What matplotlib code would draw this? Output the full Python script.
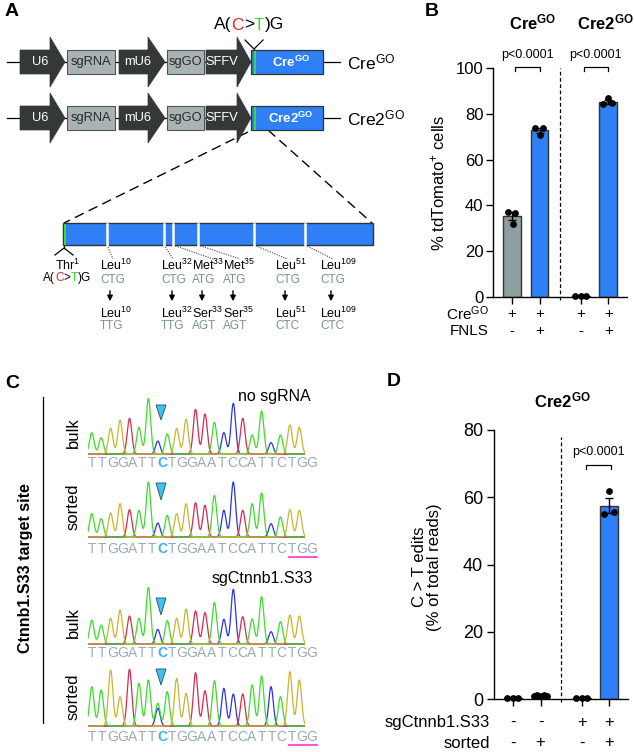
import numpy as np
import matplotlib
matplotlib.use('Agg')
import matplotlib.pyplot as plt
from matplotlib.patches import Polygon, Rectangle

plt.rcParams['font.family'] = ['Liberation Sans', 'DejaVu Sans']
plt.rcParams['mathtext.fontset'] = 'custom'
plt.rcParams['mathtext.rm'] = 'Liberation Sans'
plt.rcParams['mathtext.it'] = 'Liberation Sans:italic'
plt.rcParams['mathtext.bf'] = 'Liberation Sans:bold'

# ---------------- data ----------------
# panel B: % tdTomato+ cells
b_positions = [0, 1, 2.5, 3.5]
b_dots = [[37.1, 36.7, 31.9], [74.0, 73.8, 70.8], [0.3, 0.5, 0.4], [86.9, 84.3, 84.7]]
b_jitter = [[-0.15, 0.12, 0.03], [-0.16, 0.13, 0.02], [-0.2, 0.0, 0.2], [0.0, -0.18, 0.15]]
b_colors = ['#8e9fa0', '#2f7ff6', '#2f7ff6', '#2f7ff6']
b_cre = ['+', '+', '+', '+']
b_fnls = ['-', '+', '-', '+']

# panel D: C>T edits (% of total reads)
d_positions = [0, 1, 2.5, 3.5]
d_dots = [[0.2, 0.2, 0.2], [1.0, 1.2, 0.9, 1.1, 0.8], [0.2, 0.2, 0.2], [62.0, 55.0, 55.5]]
d_jitter = [[-0.2, 0.0, 0.2], [-0.24, -0.12, 0.0, 0.12, 0.24], [-0.2, 0.0, 0.2], [0.0, -0.18, 0.18]]
d_colors = ['#8e9fa0', '#8e9fa0', '#8e9fa0', '#2f7ff6']
d_sg = ['-', '-', '+', '+']
d_sorted = ['-', '+', '-', '+']

# panel C: chromatogram peak heights per base
seq = "TTGGATTCTGGAATCCATTCTGG"
trace_1 = [64, 49, 77, 102, 107, 80, 167, 39, 60, 77, 104, 134, 120, 95, 64, 152, 107, 57, 129, 34, 57, 87, 80]
trace_2 = [70, 55, 72, 100, 82, 80, 165, 42, 65, 70, 100, 103, 95, 125, 80, 165, 80, 100, 132, 40, 60, 82, 80]
trace_3 = [72, 57, 77, 102, 84, 77, 170, 44, 70, 77, 105, 99, 94, 125, 74, 164, 82, 75, 142, 37, 67, 87, 84]
trace_4 = [118, 108, 168, 88, 170, 128, 138, 53, 103, 143, 98, 160, 106, 136, 113, 96, 96, 123, 150, 118, 88, 163, 138]
# secondary peaks (base index, base, height)
extra_4 = [(7, 'T', 68)]

# panel A: mutated codons
codon_top = ['Leu$^{10}$', 'Leu$^{32}$', 'Met$^{33}$', 'Met$^{35}$', 'Leu$^{51}$', 'Leu$^{109}$']
codon_top_seq = ['CTG', 'CTG', 'ATG', 'ATG', 'CTG', 'CTG']
codon_bot = ['Leu$^{10}$', 'Leu$^{32}$', 'Ser$^{33}$', 'Ser$^{35}$', 'Leu$^{51}$', 'Leu$^{109}$']
codon_bot_seq = ['TTG', 'TTG', 'AGT', 'AGT', 'CTC', 'CTC']

BLUE = '#2f7ff6'
GREEN = '#3ddc2a'
DARK = '#353839'
GREY_BOX = '#a9b3b3'
CODON_GREY = '#7a9194'
base_colors = {'T': '#3ddc2a', 'G': '#c9b52e', 'A': '#d62a50', 'C': '#2a35e6'}
CRE = r'Cre$^{\mathrm{GO}}$'
CRE2 = r'Cre2$^{\mathrm{GO}}$'

fig = plt.figure(figsize=(6.34, 7.52), dpi=100)
cv = fig.add_axes([0, 0, 1, 1])
cv.set_xlim(0, 634)
cv.set_ylim(752, 0)
cv.axis('off')
renderer = fig.canvas.get_renderer()


def seg_text(x, y, parts, size):
    # draw coloured pieces of one string centred at x
    items = []
    for s, c in parts:
        t = cv.text(0, y, s, color=c, fontsize=size, va='center', ha='left')
        items.append((t, t.get_window_extent(renderer).width))
    total = sum(w for _, w in items)
    pos = x - total / 2
    for t, w in items:
        t.set_x(pos)
        pos += w


# ---------------- panel A ----------------
cv.text(5, 12, 'A', fontsize=14, fontweight='bold', va='center')

row_y = [62, 118]
row_names = [CRE, CRE2]
box_names = [r'$\mathbf{Cre^{GO}}$', r'$\mathbf{Cre2^{GO}}$']
arrows = [(20, 50, 65, 'U6', 40), (119, 148, 165, 'mU6', 138), (206, 237, 251, 'SFFV', 222)]
grey_boxes = [(67, 115, 'sgRNA'), (167, 204, 'sgGO')]

for yc, name, bname in zip(row_y, row_names, box_names):
    cv.plot([7, 340], [yc, yc], color='k', lw=0.9, zorder=1)
    for x0, x1, tip, lab, lx in arrows:
        pts = [(x0, yc - 12), (x1, yc - 12), (x1, yc - 25), (tip, yc),
               (x1, yc + 25), (x1, yc + 12), (x0, yc + 12)]
        cv.add_patch(Polygon(pts, closed=True, fc=DARK, ec=DARK, lw=0.5, zorder=3))
        cv.text(lx, yc, lab, color='white', fontsize=9.3, ha='center', va='center', zorder=4)
    for x0, x1, lab in grey_boxes:
        cv.add_patch(Rectangle((x0, yc - 12), x1 - x0, 24, fc=GREY_BOX, ec='#505555', lw=0.8, zorder=3))
        cv.text((x0 + x1) / 2, yc, lab, color='#2a2a2a', fontsize=9.3, ha='center', va='center', zorder=4)
    cv.add_patch(Rectangle((251, yc - 12), 72, 24, fc=BLUE, ec='#333333', lw=0.9, zorder=3))
    cv.add_patch(Rectangle((253.5, yc - 11.5), 2.5, 23, fc=GREEN, ec='none', zorder=4))
    cv.text(291, yc, bname, color='white', fontsize=9.5, ha='center', va='center', zorder=4)
    cv.text(347, yc, name, fontsize=12.5, ha='left', va='center')

seg_text(249, 25, [('A(', 'k'), ('C', '#ee2222'), ('>', 'k'), ('T', GREEN), (')G', 'k')], 12.5)
cv.plot([245, 254, 263], [40, 49, 40], color='k', lw=0.9)
cv.plot([254, 254], [49, 51], color='k', lw=0.9)

# zoom dashes
cv.plot([248, 64], [132, 223], color='k', lw=1.0, dashes=(7, 4))
cv.plot([268, 372], [130, 223], color='k', lw=1.0, dashes=(7, 4))

# gene map
cv.add_patch(Rectangle((63, 223), 310, 22, fc=BLUE, ec='#333333', lw=1.0, zorder=3))
cv.add_patch(Rectangle((63.5, 223.5), 2.5, 21, fc=GREEN, ec='none', zorder=4))
sep_x = [107, 164, 173, 198, 254, 305]
label_x = [100, 161, 192, 223, 275, 320]
dot_end = [113, 173, 213, 240, 287, 333]
arrow_x = [110, 172, 202, 233, 285, 331]
for sx, de in zip(sep_x, dot_end):
    cv.plot([sx, sx], [223.5, 244.5], color='white', lw=1.8, zorder=4)
    cv.plot([sx, de], [245, 259], color='#444444', lw=0.8, ls=(0, (1, 1.2)))
for lx, ax_, t1, s1, t2, s2 in zip(label_x, arrow_x, codon_top, codon_top_seq, codon_bot, codon_bot_seq):
    cv.text(lx, 265, t1, fontsize=9, ha='left', va='center')
    cv.text(lx, 280, s1, fontsize=8.5, ha='left', va='center', color=CODON_GREY)
    cv.annotate('', xy=(ax_, 304), xytext=(ax_, 288),
                arrowprops=dict(arrowstyle='-|>', lw=1.0, color='k', mutation_scale=8))
    cv.text(lx, 313, t2, fontsize=9, ha='left', va='center')
    cv.text(lx, 326, s2, fontsize=8.5, ha='left', va='center', color=CODON_GREY)

cv.plot([64, 64], [245, 248], color='k', lw=0.9)
cv.plot([55, 64, 73], [255, 248, 255], color='k', lw=0.9)
cv.text(68, 265, 'Thr$^{1}$', fontsize=9, ha='center', va='center')
seg_text(67, 278, [('A(', 'k'), ('C', '#ee2222'), ('>', 'k'), ('T', GREEN), (')G', 'k')], 8.5)


# ---------------- bar panels ----------------
def bar_panel(rect, positions, dots, jitter, colors, ymax, yticks, tick_size):
    ax = fig.add_axes(rect)
    for pos, d, jit, col in zip(positions, dots, jitter, colors):
        d = np.array(d)
        mean = d.mean()
        sem = d.std(ddof=1) / np.sqrt(len(d))
        ax.bar(pos, mean, width=0.65, color=col, edgecolor='#333333', lw=1.0, zorder=2)
        ax.errorbar(pos, mean, yerr=sem, color='k', lw=1.0, capsize=3, capthick=1.0, zorder=3)
        ax.scatter(pos + np.array(jit), d, s=15, color='k', zorder=4, clip_on=False)
    ax.set_xlim(-0.69, 4.18)
    ax.set_ylim(0, ymax)
    ax.set_yticks(yticks)
    ax.set_xticks(positions)
    ax.set_xticklabels([])
    ax.spines['top'].set_visible(False)
    ax.spines['right'].set_visible(False)
    for s in ['left', 'bottom']:
        ax.spines[s].set_linewidth(1.0)
    ax.tick_params(axis='both', length=5, width=1.0, labelsize=tick_size, pad=2)
    ax.patch.set_alpha(0)
    return ax


def row_cells(ax, positions, marks, label, dy, size=12):
    ax.annotate(label, xy=(0, 0), xycoords='axes fraction', xytext=(-4, -dy),
                textcoords='offset pixels', ha='right', va='center', fontsize=size)
    for pos, m in zip(positions, marks):
        ax.annotate(m, xy=(pos, 0), xytext=(0, -dy), textcoords='offset pixels',
                    ha='center', va='center', fontsize=size)


def bracket(ax, x0, x1, y, drop, text, ty):
    ax.plot([x0, x0, x1, x1], [y - drop, y, y, y - drop], color='k', lw=0.9, clip_on=False)
    ax.text((x0 + x1) / 2, ty, text, fontsize=9, ha='center', va='center', clip_on=False)


# panel B
axb = bar_panel([493 / 634, (752 - 297) / 752, 134 / 634, 229 / 752],
                b_positions, b_dots, b_jitter, b_colors, 100, [0, 20, 40, 60, 80, 100], 12)
axb.set_ylabel('% tdTomato$^{+}$ cells', fontsize=12)
axb.yaxis.set_label_coords(-0.343, 0.5)
axb.plot([1.75, 1.75], [-1.3, 100], color='k', lw=0.9, ls=(0, (3, 2)), clip_on=False)
bracket(axb, 0.1, 1.0, 100.3, 1.5, 'p<0.0001', 105.7)
bracket(axb, 2.6, 3.5, 100.3, 1.5, 'p<0.0001', 105.7)
row_cells(axb, b_positions, b_cre, CRE, 17, 11)
row_cells(axb, b_positions, b_fnls, 'FNLS', 34, 11)
cv.text(425, 12, 'B', fontsize=14, fontweight='bold', va='center')
cv.text(533, 22, r'$\mathbf{Cre^{GO}}$', fontsize=12, ha='center', va='center')
cv.text(605, 22, r'$\mathbf{Cre2^{GO}}$', fontsize=12, ha='center', va='center')

# panel D
axd = bar_panel([494 / 634, (752 - 699) / 752, 134 / 634, 269 / 752],
                d_positions, d_dots, d_jitter, d_colors, 80, [0, 20, 40, 60, 80], 13)
axd.tick_params(axis='y', pad=3)
axd.plot([1.75, 1.75], [-1.0, 78], color='k', lw=0.9, ls=(0, (3, 2)), clip_on=False)
bracket(axd, 2.65, 3.55, 69.5, 1.2, 'p<0.0001', 73.5)
row_cells(axd, d_positions, d_sg, 'sgCtnnb1.S33', 23)
row_cells(axd, d_positions, d_sorted, 'sorted', 44)
cv.text(427, 567, 'C > T edits\n(% of total reads)', fontsize=12, rotation=90,
        ha='center', va='center', linespacing=1.05, multialignment='center')
cv.text(387, 382, 'D', fontsize=14, fontweight='bold', va='center')
cv.text(562, 400, r'$\mathbf{Cre2^{GO}}$', fontsize=12, ha='center', va='center')

# ---------------- panel C ----------------
cv.text(5, 383, 'C', fontsize=14, fontweight='bold', va='center')
cv.plot([43, 43], [397, 723], color='k', lw=0.9)
cv.text(26, 568, 'Ctnnb1.S33 target site', fontsize=11.5, fontweight='bold',
        rotation=90, ha='center', va='center')

traces = [trace_1, trace_2, trace_3, trace_4]
extras = [[], [], [], extra_4]
baselines = [454, 537, 644, 726]
seq_y = [463, 549, 653, 737]
tri = [(405, 420), (483, 500), (598, 615), (669, 685)]
side = ['bulk', 'sorted', 'bulk', 'sorted']
side_y = [433, 507, 623, 697]
underline = [False, True, False, True]

xs = np.linspace(-0.4, 22.6, 900)
sig = 0.24
for heights, extra, base, sy, (t0, t1), sl, sly, ul in zip(
        traces, extras, baselines, seq_y, tri, side, side_y, underline):
    axc = fig.add_axes([88 / 634, (752 - (base + 1)) / 752, 217 / 634, 60 / 752])
    axc.set_xlim(-0.4, 22.6)
    axc.set_ylim(-3, 177)
    axc.axis('off')
    axc.patch.set_alpha(0)
    for b in ['C', 'A', 'T', 'G']:
        y = np.zeros_like(xs)
        for i, (bb, h) in enumerate(zip(seq, heights)):
            if bb == b:
                y += h * np.exp(-(xs - i) ** 2 / (2 * sig ** 2))
        for i, bb, h in extra:
            if bb == b:
                y += h * np.exp(-(xs - i) ** 2 / (2 * sig ** 2))
        axc.plot(xs, y, color=base_colors[b], lw=0.9)
    for i, ch in enumerate(seq):
        if i == 7:
            cv.text(92.5 + 9.95 * i, sy, ch, fontsize=10, ha='center', va='center',
                    color='#33b8ee', fontweight='bold')
        else:
            cv.text(92.5 + 9.95 * i, sy, ch, fontsize=10, ha='center', va='center', color='#9aabb0')
    cv.add_patch(Polygon([(156, t0), (166, t0), (161, t1)], closed=True,
                         fc='#3cc3ee', ec='#1f4f66', lw=0.6))
    cv.text(73, sly, sl, fontsize=12, rotation=90, ha='center', va='center')
    if ul:
        cv.plot([289, 317], [sy + 8, sy + 8], color='#ff33cc', lw=1.2)

cv.text(311, 397, 'no sgRNA', fontsize=11.5, ha='right', va='center')
cv.text(313, 579, 'sgCtnnb1.S33', fontsize=11.5, ha='right', va='center')

fig.savefig('out.png', dpi=100)
